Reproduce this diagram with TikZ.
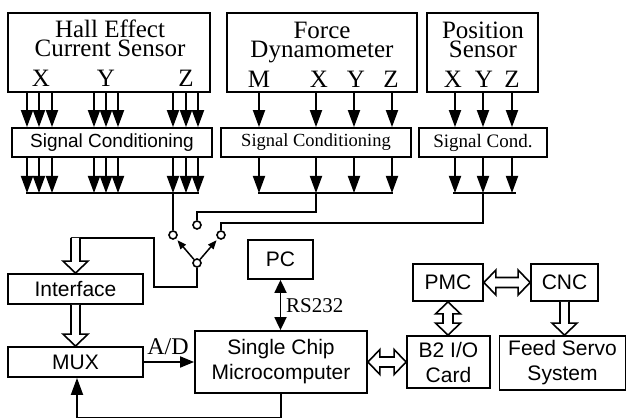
\documentclass[tikz,border=0pt]{standalone}
\usepackage{fontspec}
\setmainfont{Liberation Serif}
\setsansfont{Liberation Sans}
\usetikzlibrary{arrows.meta,calc}
\newcommand\hvarrow[2]{%
  \draw[hol] ($(#1)+(-4.5,0)$) -- ($(#2)+(-4.5,-12)$) -- ($(#2)+(-12.5,-12)$) -- (#2)
    -- ($(#2)+(12.5,-12)$) -- ($(#2)+(4.5,-12)$) -- ($(#1)+(4.5,0)$);}
\newcommand\hharrow[2]{%
  \draw[hol] (#1) -- ++(12,-12.5) -- ++(0,7.5) -- ($(#2)+(-12,-5)$) -- ++(0,-7.5) -- (#2)
    -- ++(-12,12.5) -- ++(0,-7.5) -- ($(#1)+(12,5)$) -- ++(0,7.5) -- cycle;}
\newcommand\vvarrow[2]{%
  \draw[hol] (#1) -- ++(12.5,12) -- ++(-7.5,0) -- ($(#2)+(5,-12)$) -- ++(7.5,0) -- (#2)
    -- ++(-12.5,-12) -- ++(7.5,0) -- ($(#1)+(-5,12)$) -- ++(-7.5,0) -- cycle;}
\begin{document}
\begin{tikzpicture}[x=1pt,y=-1pt,
  box/.style={draw,line width=1.8pt,inner sep=0pt},
  lw/.style={line width=1.8pt},
  arr/.style={lw,-{Triangle[length=17pt,width=12pt]}},
  arrs/.style={lw,-{Triangle[length=14pt,width=11pt]}},
  darr/.style={lw,{Triangle[length=13pt,width=12pt]}-{Triangle[length=13pt,width=12pt]}},
  sarr/.style={line width=1.5pt,-{Triangle[length=9pt,width=7pt]},shorten >=2pt},
  hol/.style={line width=1.6pt,fill=white,line join=miter},
  circ/.style={circle,draw,line width=1.6pt,fill=white,minimum size=8pt,inner sep=0pt},
  ttl/.style={font=\fontsize{25}{25}\selectfont,anchor=base,inner sep=0pt},
  ttl2/.style={font=\fontsize{25}{19}\selectfont,anchor=base,inner sep=0pt,align=center},
  sf/.style={font=\sffamily\fontsize{21}{25}\selectfont,align=center},
  lab/.style={anchor=base,inner sep=0pt}
]
\useasboundingbox[fill=white] (0,0) rectangle (627,419);

% sensor boxes
\node[box,minimum width=202pt,minimum height=79pt] (hall) at (109,52.5) {};
\node[box,minimum width=190pt,minimum height=79pt] (force) at (322,52.5) {};
\node[box,minimum width=111pt,minimum height=79pt] (pos) at (482.5,52.5) {};

\node[ttl2] (ht) at (110,57) {Hall Effect\\Current Sensor};
\node[ttl2] (ft) at (322,58) {Force\\Dynamometer};
\node[ttl2] (pt) at (483,57.5) {Position\\Sensor};

\node[ttl] (hx) at (41,87) {X};
\node[ttl] (hy) at (106,87) {Y};
\node[ttl] (hz) at (186,87) {Z};
\node[ttl] (fm) at (259,88) {M};
\node[ttl] (fx) at (319,88) {X};
\node[ttl] (fy) at (356,88) {Y};
\node[ttl] (fz) at (391,88) {Z};
\node[ttl] (px) at (453,88) {X};
\node[ttl] (py) at (484,88) {Y};
\node[ttl] (pz) at (512,88) {Z};

% signal conditioning
\node[box,minimum width=200pt,minimum height=29pt,font=\sffamily\fontsize{19}{19}\selectfont] (sc1) at (112,142.5) {Signal Conditioning};
\node[box,minimum width=190pt,minimum height=29pt,font=\fontsize{18.5}{19}\selectfont] (sc2) at (316,142.5) {Signal Conditioning};
\node[box,minimum width=128pt,minimum height=29pt,font=\fontsize{19}{19}\selectfont] (sc3) at (483,142.5) {Signal Cond.};

% arrows
\foreach \x in {27,39,52,94,106,118,173,186,198} {
  \draw[arr] (\x,0 |- hall.south) -- (\x,0 |- sc1.north);
  \draw[arr] (\x,0 |- sc1.south) -- (\x,193);
}
\foreach \x in {259,316,354,392} {
  \draw[arr] (\x,0 |- force.south) -- (\x,0 |- sc2.north);
  \draw[arr] (\x,0 |- sc2.south) -- (\x,193);
}
\foreach \x in {455,483,512} {
  \draw[arr] (\x,0 |- pos.south) -- (\x,0 |- sc3.north);
  \draw[arr] (\x,0 |- sc3.south) -- (\x,193);
}
\draw[lw] (26.1,193) -- (198.9,193);
\draw[lw] (258.1,193) -- (392.9,193);
\draw[lw] (453,193) -- (516,193);

% switch
\node[circ] (cl) at (173,235) {};
\node[circ] (cm) at (197,225) {};
\node[circ] (cr) at (221,235) {};
\node[circ] (piv) at (197,263) {};
\draw[lw] (cl |- 0,193) -- (cl.north);
\draw[lw] (316,193) -- (316,212) -- (cm |- 0,212) -- (cm.north);
\draw[lw] (483,193) -- (483,223) -- (cr |- 0,223) -- (cr.north);
\draw[sarr] (piv) -- (cl);
\draw[sarr] (piv) -- (cr);

% lower boxes
\node[box,sf,minimum width=135pt,minimum height=30pt] (iface) at (75.5,289) {Interface};
\node[box,sf,minimum width=135pt,minimum height=30pt] (mux) at (75.5,362) {MUX};
\node[box,sf,minimum width=172pt,minimum height=62pt] (scm) at (281,362) {Single Chip\\Microcomputer};
\node[box,sf,minimum width=65pt,minimum height=39pt] (pc) at (280.5,259.5) {PC};
\node[box,sf,minimum width=70pt,minimum height=37pt] (pmc) at (448,282.5) {PMC};
\node[box,sf,minimum width=67pt,minimum height=37pt] (cnc) at (564.5,282.5) {CNC};
\node[box,sf,minimum width=83pt,minimum height=52pt] (b2) at (448.5,362) {B2 I/O\\Card};
\node[box,sf,minimum width=126pt,minimum height=54pt] (feed) at (562.5,363) {Feed Servo\\System};

\coordinate (itop) at (iface.north |- 0,238);
\draw[lw] (piv.south) -- (197,287) -- (154,287) -- (154,238) -- ($(itop)+(-4.5,0)$);
\hvarrow{itop}{iface.north}
\hvarrow{iface.south}{mux.north}

\draw[arrs] (mux.east) -- (scm.west);
\node[lab,font=\fontsize{24}{24}\selectfont] (ad) at (168,355) {A/D};
\draw[darr] (pc.south) -- (pc.south |- scm.north);
\node[lab,anchor=base west,font=\fontsize{21}{21}\selectfont] (rs) at (286,313) {RS232};
\draw[arr] (scm.south) -- (scm.south |- 0,417.6) -- (77,417.6) -- (77,0 |- mux.south);

\hharrow{scm.east}{b2.west}
\hharrow{pmc.east}{cnc.west}
\coordinate (b2top) at (pmc.south |- b2.north);
\vvarrow{pmc.south}{b2top}
\coordinate (fn) at (cnc.south |- feed.north);
\hvarrow{cnc.south}{fn}
\end{tikzpicture}
\end{document}
